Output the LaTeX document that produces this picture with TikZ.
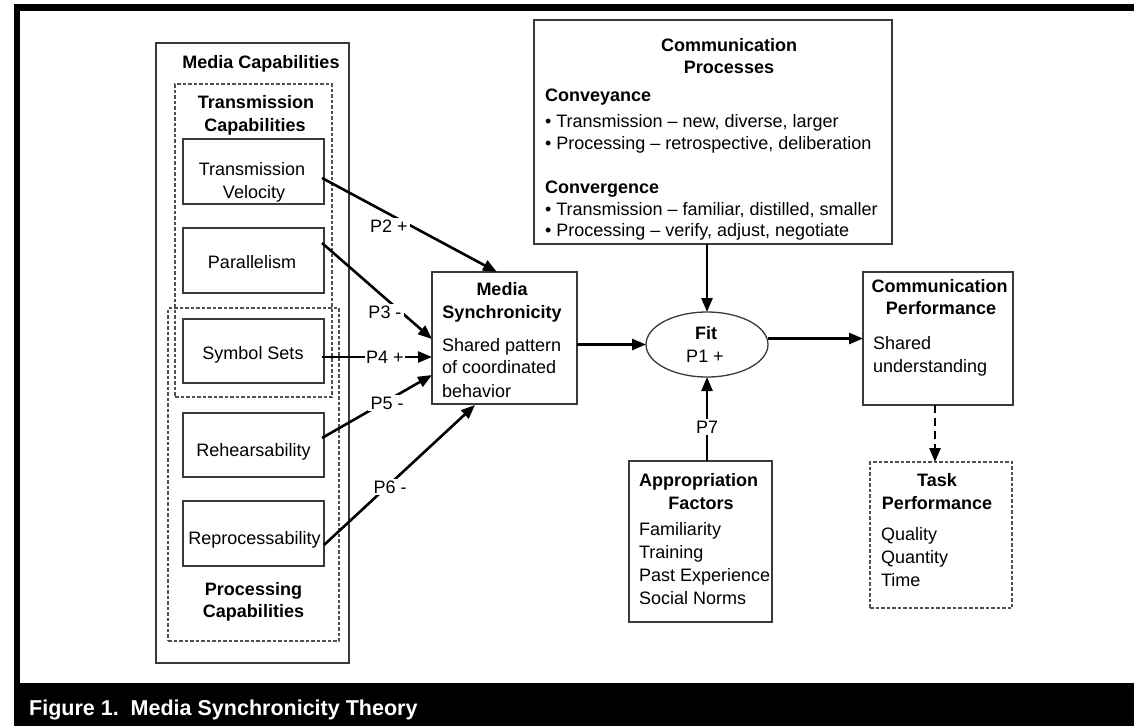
\documentclass[tikz,border=0pt]{standalone}
\usepackage{fontspec}
\setmainfont{Liberation Sans}
\usetikzlibrary{arrows.meta,calc,shapes.geometric}
\definecolor{boxgray}{HTML}{3A3A3A}
\definecolor{dashgray}{HTML}{505050}
\begin{document}
\begin{tikzpicture}[x=1pt,y=-1pt,
  box/.style={draw=boxgray,line width=1.3pt,inner sep=0,outer sep=0},
  dbox/.style={draw=dashgray,line width=1.3pt,dash pattern=on 3.5pt off 2pt,inner sep=0,outer sep=0},
  txt/.style={inner sep=0,outer sep=0,font=\fontsize{18}{23}\selectfont,text height=12.9pt,text depth=0pt},
  bt/.style={txt,font=\fontsize{18}{23}\selectfont\bfseries},
  lt/.style={txt,anchor=west},
  arr/.style={line width=2.6pt,-{Triangle[length=14pt,width=11pt]}},
  plab/.style={txt,fill=white,inner sep=2pt}]
\useasboundingbox (0,0) rectangle (1134,726);
\fill[white] (0,0) rectangle (1134,726);
% frame
\fill[black] (14,4) rectangle (1134,11);
\fill[black] (14,4) rectangle (20,683);
\fill[black] (14,683) rectangle (1134,726);
\node[anchor=west,text=white,inner sep=0,font=\fontsize{21.5}{26}\selectfont\bfseries,text height=15.4pt,text depth=0pt] (caption) at (29,708) {Figure 1.\ \ Media Synchronicity Theory};

% boxes
\node[box,minimum width=193pt,minimum height=620pt] (mc) at (252.5,353) {};
\node[dbox,minimum width=157pt,minimum height=313pt] (tc) at (253.5,240.5) {};
\node[dbox,minimum width=171pt,minimum height=333pt] (pc) at (253.5,474.5) {};
\node[box,minimum width=141pt,minimum height=65pt] (tv) at (253.5,171.5) {};
\node[box,minimum width=141pt,minimum height=65pt] (par) at (253.5,260.5) {};
\node[box,minimum width=141pt,minimum height=64pt] (sym) at (253.5,351) {};
\node[box,minimum width=141pt,minimum height=64pt] (reh) at (253.5,445) {};
\node[box,minimum width=141pt,minimum height=65pt] (rep) at (253.5,533.5) {};
\node[box,minimum width=145pt,minimum height=132pt] (ms) at (504.5,338) {};
\node[box,ellipse,minimum width=122pt,minimum height=65pt] (fit) at (707,344.5) {};
\node[box,minimum width=358pt,minimum height=224pt] (cp) at (713,132) {};
\node[box,minimum width=150pt,minimum height=133pt] (perf) at (938,338.5) {};
\node[dbox,minimum width=142pt,minimum height=146pt] (task) at (941,535) {};
\node[box,minimum width=143pt,minimum height=161pt] (af) at (700.5,541.5) {};

% left column texts
\node[bt] (mct) at (261,62) {Media Capabilities};
\node[bt] (tct1) at (256,102) {Transmission};
\node[bt] (tct2) at (255,125) {Capabilities};
\node[txt] (tvt1) at (252,169) {Transmission};
\node[txt] (tvt2) at (254,192) {Velocity};
\node[txt] (part) at (252,262) {Parallelism};
\node[txt] (symt) at (253,353) {Symbol Sets};
\node[txt] (reht) at (253.5,450) {Rehearsability};
\node[txt] (rept) at (254.5,538) {Reprocessability};
\node[bt] (pct1) at (253.5,589) {Processing};
\node[bt] (pct2) at (253.5,611) {Capabilities};

% media synchronicity
\node[bt] (mst1) at (502,289) {Media};
\node[bt] (mst2) at (502,312) {Synchronicity};
\node[lt] (msb1) at (442,345) {Shared pattern};
\node[lt] (msb2) at (442,367) {of coordinated};
\node[lt] (msb3) at (442,391) {behavior};

% fit
\node[bt] (fitt) at (706,333) {Fit};
\node[txt] (fitp) at (705,356) {P1 +};

% communication processes
\node[bt] (cpt1) at (729,45) {Communication};
\node[bt] (cpt2) at (729,67) {Processes};
\node[bt,anchor=west] (cpc1) at (545,95) {Conveyance};
\node[lt] (cpc2) at (545,121) {• Transmission – new, diverse, larger};
\node[lt] (cpc3) at (545,143) {• Processing – retrospective, deliberation};
\node[bt,anchor=west] (cpv1) at (545,187) {Convergence};
\node[lt] (cpv2) at (545,209) {• Transmission – familiar, distilled, smaller};
\node[lt] (cpv3) at (545,230) {• Processing – verify, adjust, negotiate};

% communication performance
\node[bt] (perft1) at (939.5,286) {Communication};
\node[bt] (perft2) at (941,308) {Performance};
\node[lt] (perfb1) at (873,343) {Shared};
\node[lt] (perfb2) at (873,366) {understanding};

% task performance
\node[bt] (taskt1) at (937,480) {Task};
\node[bt] (taskt2) at (937,503) {Performance};
\node[lt] (taskb1) at (881,534) {Quality};
\node[lt] (taskb2) at (881,557) {Quantity};
\node[lt] (taskb3) at (881,580) {Time};

% appropriation factors
\node[bt] (aft1) at (698.5,480) {Appropriation};
\node[bt] (aft2) at (701,503) {Factors};
\node[lt] (afb1) at (639,529) {Familiarity};
\node[lt] (afb2) at (639,552) {Training};
\node[lt] (afb3) at (639,575) {Past Experience};
\node[lt] (afb4) at (639,598) {Social Norms};

% connectors
\coordinate (p2a) at ($(tv.east)+(-2,6.5)$);
\coordinate (p2b) at ($(ms.north)+(-7.5,0)$);
\coordinate (p3a) at ($(par.east)+(-2,-17.5)$);
\coordinate (p3b) at ($(ms.west)+(0,1)$);
\coordinate (p4a) at ($(sym.east)+(-2,6)$);
\coordinate (p4b) at ($(ms.west)+(0,19)$);
\coordinate (p5a) at ($(reh.east)+(-2,-7)$);
\coordinate (p5b) at ($(ms.west)+(0,37)$);
\coordinate (p6a) at ($(rep.east)+(0,11.5)$);
\coordinate (p6b) at ($(ms.south)+(-29.5,1)$);
\draw[arr] (p2a) -- (p2b);
\draw[arr] (p3a) -- (p3b);
\draw[arr] (p4a) -- (p4b);
\draw[arr] (p5a) -- (p5b);
\draw[arr] (p6a) -- (p6b);
\draw[arr] (ms.east |- fit.west) -- (fit.west);
\draw[arr] (fit.north |- cp.south) -- (fit.north);
\draw[arr] (fit.east |- perf.west) -- (perf.west);
\draw[arr] ($(af.north)+(6.5,0)$) -- (fit.south);
\coordinate (pd) at ($(perf.south)+(-3,0)$);
\draw[line width=2.6pt,dash pattern=on 8pt off 5pt,-{Triangle[length=14pt,width=11pt]}] (pd) -- (pd |- task.north);

% proposition labels
\node[plab] (p2) at (389,226) {P2 +};
\node[plab] (p3) at (385,312) {P3 -};
\node[plab,inner sep=1pt] (p4) at (385,357) {P4 +};
\node[plab] (p5) at (387,403) {P5 -};
\node[plab] (p6) at (390,487) {P6 -};
\node[plab] (p7) at (707,427) {P7};
\end{tikzpicture}
\end{document}
